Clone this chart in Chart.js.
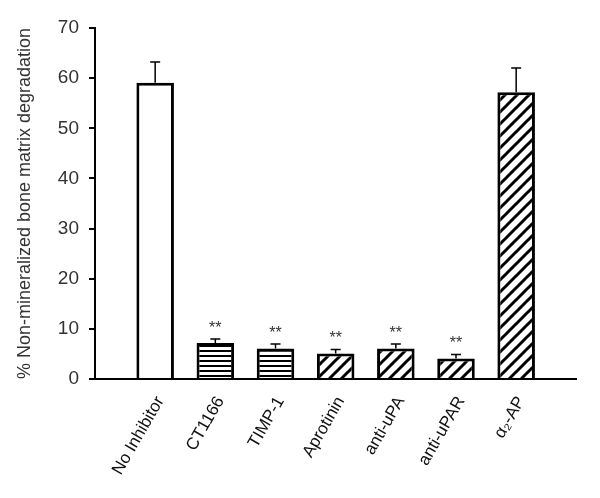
<!DOCTYPE html>
<html>
<head>
<meta charset="utf-8">
<script src="https://cdn.jsdelivr.net/npm/chart.js@4"></script>
<style>
  html, body { margin: 0; padding: 0; background: #fff; }
  #wrap { width: 600px; height: 498px; }
</style>
</head>
<body>
<div id="wrap"><canvas id="chart" width="600" height="498"></canvas></div>
<script>
// empty first/last labels pad the axis so the bars sit on ticks 1..7
const categories = ['', 'No Inhibitor', 'CT1166', 'TIMP-1', 'Aprotinin', 'anti-uPA', 'anti-uPAR', 'α₂-AP', ''];
const degradation = [null, 59.1, 7.2, 6.1, 5.1, 6.1, 4.1, 57.2, null];
const errorUp = [null, 4.1, 0.8, 0.9, 0.8, 0.9, 0.8, 4.8, null];
const significance = ['', '', '**', '**', '**', '**', '**', '', ''];
const fillKind = ['', 'open', 'horizontal', 'horizontal', 'diagonal', 'diagonal', 'diagonal', 'diagonal', ''];
const yTicks = [0, 10, 20, 30, 40, 50, 60, 70];

const FONT = '"Liberation Sans", Arial, sans-serif';

function makePattern(kind) {
  const c = document.createElement('canvas');
  const ctx = c.getContext('2d');
  if (kind === 'horizontal') {
    c.width = 10; c.height = 5;
    ctx.fillStyle = '#fff';
    ctx.fillRect(0, 0, 10, 5);
    ctx.fillStyle = '#000';
    ctx.fillRect(0, 0, 10, 2);
  } else {
    c.width = 12; c.height = 12;
    ctx.fillStyle = '#fff';
    ctx.fillRect(0, 0, 12, 12);
    ctx.strokeStyle = '#000';
    ctx.lineWidth = 3;
    ctx.beginPath();
    ctx.moveTo(-2, 14); ctx.lineTo(14, -2);
    ctx.moveTo(-8, 8); ctx.lineTo(8, -8);
    ctx.moveTo(4, 20); ctx.lineTo(20, 4);
    ctx.stroke();
  }
  return document.getElementById('chart').getContext('2d').createPattern(c, 'repeat');
}

const fills = fillKind.map(k => (k === 'horizontal' || k === 'diagonal') ? makePattern(k) : '#fff');

// upward error bars with caps, plus the ** markers
const errorBars = {
  id: 'errorBars',
  afterDatasetsDraw(chart) {
    const ctx = chart.ctx;
    const y = chart.scales.y;
    const meta = chart.getDatasetMeta(0);
    ctx.save();
    meta.data.forEach((bar, i) => {
      if (degradation[i] == null) return;
      const top = y.getPixelForValue(degradation[i]);
      const end = y.getPixelForValue(degradation[i] + errorUp[i]);
      ctx.strokeStyle = '#000';
      ctx.lineWidth = 1.5;
      ctx.beginPath();
      ctx.moveTo(bar.x, top);
      ctx.lineTo(bar.x, end);
      ctx.moveTo(bar.x - 5, end);
      ctx.lineTo(bar.x + 5, end);
      ctx.stroke();
      if (significance[i]) {
        ctx.fillStyle = '#333';
        ctx.font = '16px ' + FONT;
        ctx.textAlign = 'center';
        ctx.textBaseline = 'alphabetic';
        ctx.fillText(significance[i], bar.x, end - 6);
      }
    });
    ctx.restore();
  }
};

new Chart(document.getElementById('chart'), {
  type: 'bar',
  data: {
    labels: categories,
    datasets: [{
      data: degradation,
      backgroundColor: fills,
      borderColor: '#000',
      borderWidth: 3,
      borderSkipped: 'bottom',
      barPercentage: 0.78,
      categoryPercentage: 0.8
    }]
  },
  options: {
    responsive: false,
    animation: false,
    layout: { padding: { top: 28, right: 14, left: 0, bottom: 0 } },
    plugins: { legend: { display: false }, tooltip: { enabled: false } },
    scales: {
      x: {
        offset: false,
        grid: { display: false, offset: false },
        border: { color: '#000', width: 2 },
        afterFit(scale) { scale.height = 119; },
        ticks: {
          autoSkip: false,
          maxRotation: 60,
          minRotation: 60,
          labelOffset: 5,
          color: '#111',
          padding: 6,
          font: { family: FONT, size: 17 }
        }
      },
      y: {
        min: 0,
        max: 70,
        afterBuildTicks(scale) { scale.ticks = yTicks.map(v => ({ value: v })); },
        afterFit(scale) { scale.width = 95; },
        grid: { drawOnChartArea: false, drawTicks: true, tickLength: 6, color: '#000', lineWidth: 2 },
        border: { color: '#000', width: 2 },
        ticks: {
          color: '#333',
          padding: 10,
          font: { family: FONT, size: 19 }
        },
        title: {
          display: true,
          text: '% Non-mineralized bone matrix degradation',
          color: '#333',
          padding: { top: 14, bottom: 0 },
          font: { family: FONT, size: 18 }
        }
      }
    }
  },
  plugins: [errorBars]
});
</script>
</body>
</html>
